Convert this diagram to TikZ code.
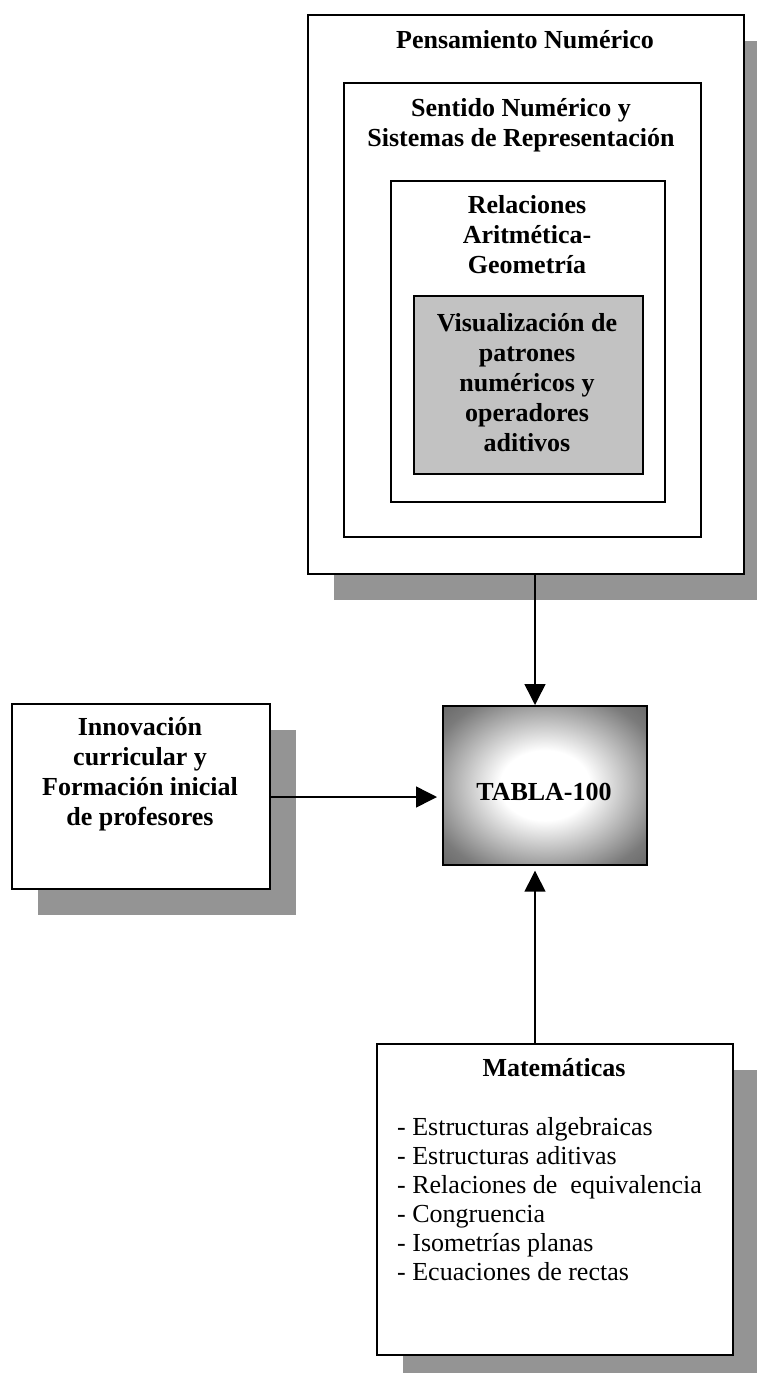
\documentclass[tikz,border=0pt]{standalone}
\usepackage{fontspec}
\setmainfont{Liberation Serif}
\usetikzlibrary{arrows.meta,shadows}
\pgfdeclareradialshading{tablash}{\pgfpoint{0bp}{0bp}}{color(0bp)=(white); color(11bp)=(white); color(30bp)=(black!52); color(46bp)=(black!72); color(72bp)=(black!78)}
\begin{document}
\begin{tikzpicture}[x=1pt,y=-1pt,
  box/.style={draw=black, line width=1.7pt, fill=white, inner sep=0pt, anchor=north west},
  shad/.style={drop shadow={shadow xshift=26pt, shadow yshift=-26pt, fill=black!42, opacity=1}},
  ttl/.style={font=\fontsize{26}{30}\selectfont\bfseries, align=center, inner sep=0pt},
  lst/.style={font=\fontsize{26}{29}\selectfont, align=left, inner sep=0pt, anchor=north west},
  arr/.style={line width=1.5pt, -{Triangle[length=21pt,width=21pt]}}]
\useasboundingbox (0,0) rectangle (757,1373);
\clip (0,0) rectangle (757,1373);
% boxes
\node[box, shad, minimum width=436pt, minimum height=559pt] (pens) at (307,14) {};
\node[box, minimum width=357pt, minimum height=454pt] (sent) at (343,82) {};
\node[box, minimum width=274pt, minimum height=321pt] (rel) at (390,180) {};
\node[box, fill=black!24, minimum width=229pt, minimum height=178pt] (vis) at (413,295) {};
\node[box, shad, minimum width=258pt, minimum height=185pt] (inn) at (11,703) {};
\node[box, shading=tablash, minimum width=204pt, minimum height=159pt] (tabla) at (442,705) {};
\node[box, shad, minimum width=356pt, minimum height=311pt] (mat) at (376,1043) {};
% texts
\node[ttl] (penst) at (525,40) {Pensamiento Numérico};
\node[ttl] (sentt) at (521,125) {Sentido Numérico y\\Sistemas de Representación};
\node[ttl] (relt) at (527,235) {Relaciones\\Aritmética-\\Geometría};
\node[ttl] (vist) at (527,383) {Visualización de\\patrones\\numéricos y\\operadores\\aditivos};
\node[ttl] (innt) at (140,774) {Innovación\\curricular y\\Formación inicial\\de profesores};
\node[ttl] (tablat) at (544,792) {TABLA-100};
\node[ttl] (matt) at (554,1068) {Matemáticas};
\node[lst] (list) at (397,1117) {- Estructuras algebraicas\\- Estructuras aditivas\\- Relaciones de \ equivalencia\\- Congruencia\\- Isometrías planas\\- Ecuaciones de rectas};
% connectors
\coordinate (ax) at (535,0);
\coordinate (ay) at (0,797);
\draw[arr] (pens.south -| ax) -- (tabla.north -| ax);
\draw[arr, shorten >=5pt] (inn.east |- ay) -- (tabla.west |- ay);
\draw[arr, shorten >=5pt] (mat.north -| ax) -- (tabla.south -| ax);
\end{tikzpicture}
\end{document}
